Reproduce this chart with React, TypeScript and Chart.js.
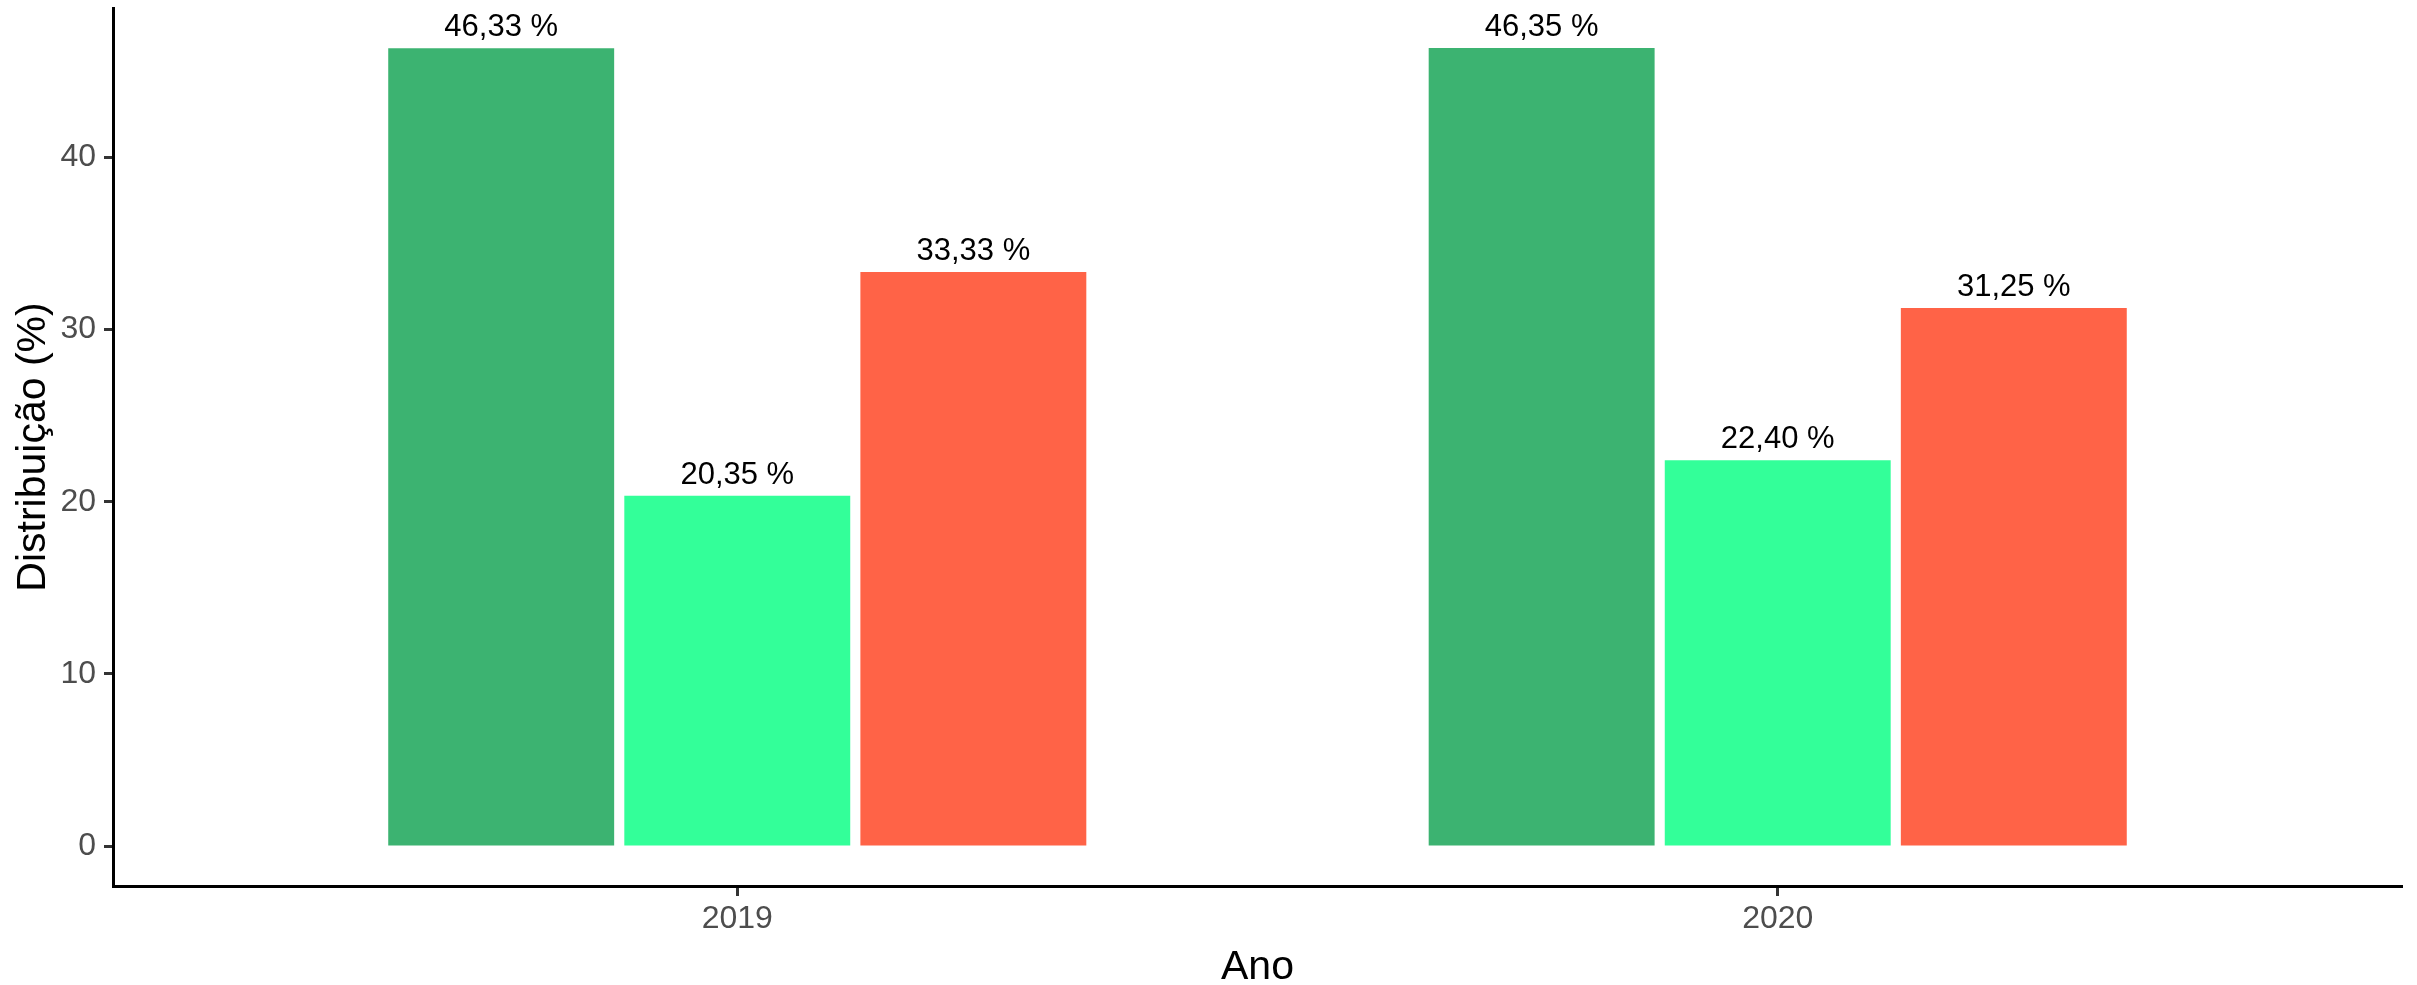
import React, { useEffect, useRef } from "react";
import { Chart, registerables } from "chart.js";

Chart.register(...registerables);

const categories = ["2019", "2020"];
const seriesA = [46.33, 46.35];
const seriesB = [20.35, 22.4];
const seriesC = [33.33, 31.25];
const seriesNames = ["Grupo 1", "Grupo 2", "Grupo 3"];
const seriesColors = ["#3CB371", "#33FF99", "#FF6347"];
const yTicks = [0, 10, 20, 30, 40];
const yMin = -2.3175;
const yMax = 48.6675;

const FONT = '"Liberation Sans", Arial, Helvetica, sans-serif';

const barLabelPlugin = {
  id: "barLabels",
  afterDatasetsDraw(chart: any) {
    const ctx = chart.ctx;
    ctx.save();
    ctx.font = `31px ${FONT}`;
    ctx.fillStyle = "#000000";
    ctx.textAlign = "center";
    ctx.textBaseline = "alphabetic";
    chart.data.datasets.forEach((ds: any, di: number) => {
      const meta = chart.getDatasetMeta(di);
      meta.data.forEach((bar: any, i: number) => {
        const v = ds.data[i].y as number;
        const txt = v.toFixed(2).replace(".", ",") + " %";
        ctx.fillText(txt, bar.x, bar.y - 12);
      });
    });
    ctx.restore();
  },
};

export default function App() {
  const canvasRef = useRef<HTMLCanvasElement | null>(null);

  useEffect(() => {
    document.body.style.margin = "0";
    document.body.style.overflow = "hidden";
    const canvas = canvasRef.current;
    if (!canvas) return;
    const allSeries = [seriesA, seriesB, seriesC];
    const chart = new Chart(canvas, {
      type: "bar",
      data: {
        datasets: allSeries.map((s, si) => ({
          label: seriesNames[si],
          data: categories.map((_, i) => ({ x: i + 1, y: s[i] })),
          backgroundColor: seriesColors[si],
          borderWidth: 0,
          categoryPercentage: 0.6807,
          barPercentage: 0.957,
        })),
      },
      options: {
        responsive: false,
        animation: false,
        devicePixelRatio: 1,
        layout: { padding: { top: 8, right: 15, left: 0, bottom: 0 } },
        plugins: {
          legend: { display: false },
          tooltip: { enabled: false },
        },
        scales: {
          x: {
            type: "linear",
            min: 0.4,
            max: 2.6,
            offset: false,
            afterBuildTicks: (s: any) => {
              s.ticks = categories.map((_, i) => ({ value: i + 1 }));
            },
            afterFit: (s: any) => {
              s.height = 99;
              s.paddingLeft = 0;
              s.paddingRight = 0;
              s.paddingTop = 0;
              s.paddingBottom = 0;
            },
            ticks: {
              autoSkip: false,
              maxRotation: 0,
              minRotation: 0,
              padding: 4,
              color: "#4D4D4D",
              font: { family: FONT, size: 32 },
              callback: (v: any) => categories[Math.round(Number(v)) - 1] ?? "",
            },
            grid: {
              display: true,
              offset: false,
              drawOnChartArea: false,
              drawTicks: true,
              tickLength: 10,
              tickWidth: 3,
              tickColor: "#333333",
            },
            border: { display: true, color: "#000000", width: 3 },
            title: {
              display: true,
              text: "Ano",
              color: "#000000",
              font: { family: FONT, size: 41, lineHeight: 1 },
              padding: { top: 0, bottom: -3 },
            },
          },
          y: {
            type: "linear",
            min: yMin,
            max: yMax,
            afterBuildTicks: (s: any) => {
              s.ticks = yTicks.map((v) => ({ value: v }));
            },
            afterFit: (s: any) => {
              s.width = 113;
              s.paddingLeft = 0;
              s.paddingRight = 0;
              s.paddingTop = 0;
              s.paddingBottom = 0;
            },
            ticks: {
              padding: 8,
              color: "#4D4D4D",
              font: { family: FONT, size: 32 },
            },
            grid: {
              display: true,
              drawOnChartArea: false,
              drawTicks: true,
              tickLength: 9,
              tickWidth: 3,
              tickColor: "#333333",
            },
            border: { display: true, color: "#000000", width: 3 },
            title: {
              display: true,
              text: "Distribuição (%)",
              color: "#000000",
              font: { family: FONT, size: 41, lineHeight: 1 },
              padding: { top: 13, bottom: 0 },
            },
          },
        },
      } as any,
      plugins: [barLabelPlugin],
    });
    return () => chart.destroy();
  }, []);

  return (
    <div style={{ width: 2417, height: 985, background: "#ffffff" }}>
      <canvas
        ref={canvasRef}
        width={2417}
        height={985}
        style={{ display: "block", width: 2417, height: 985 }}
      />
    </div>
  );
}
